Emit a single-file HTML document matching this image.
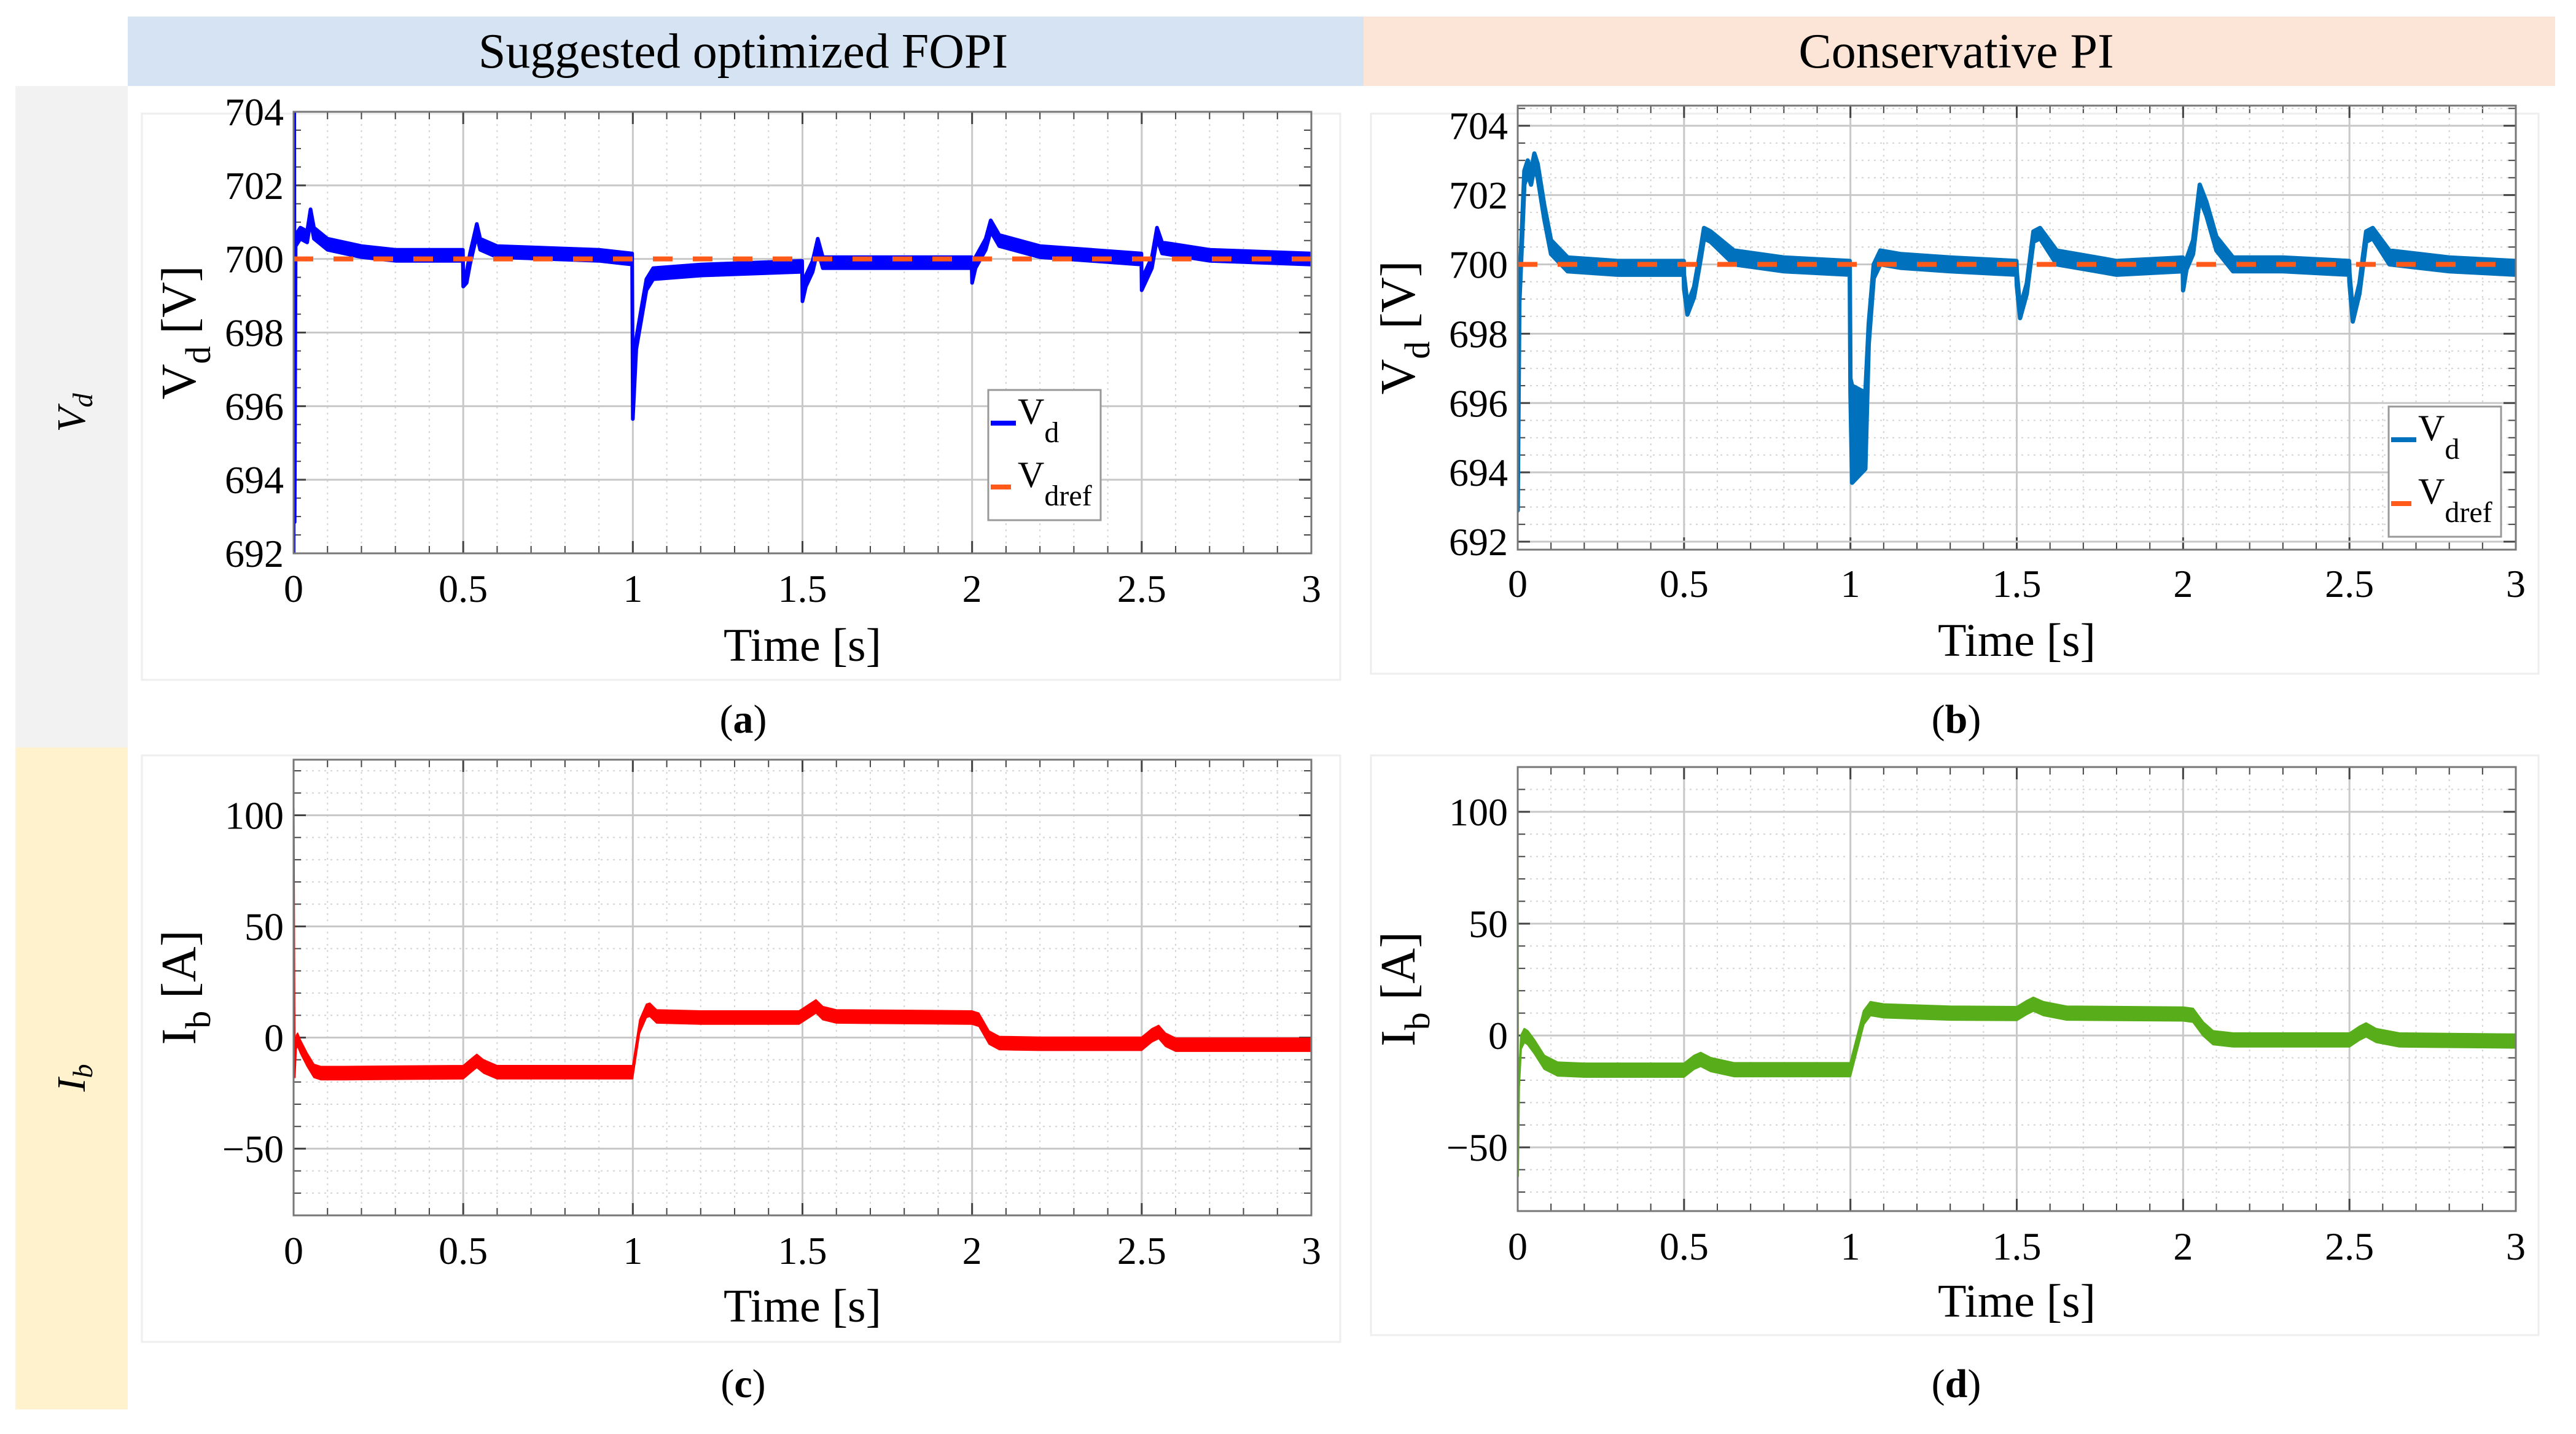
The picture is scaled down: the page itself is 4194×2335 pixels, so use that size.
<!DOCTYPE html>
<html><head><meta charset="utf-8"><style>
html,body{margin:0;padding:0;background:#fff;}
svg{display:block;font-family:"Liberation Serif",serif;}
</style></head><body>
<svg id="fig" width="4194" height="2335" viewBox="0 0 4194 2335" xmlns="http://www.w3.org/2000/svg">
<rect x="208" y="27" width="2012" height="113" fill="#d6e3f3"/>
<rect x="2220" y="27" width="1940" height="113" fill="#fce4d6"/>
<text x="1210" y="110" font-size="80" text-anchor="middle">Suggested optimized FOPI</text>
<text x="3185" y="110" font-size="80" text-anchor="middle">Conservative PI</text>
<rect x="25" y="140" width="183" height="1077" fill="#f2f2f2"/>
<rect x="25" y="1217" width="183" height="1078" fill="#fff2cc"/>
<text transform="translate(138,672) rotate(-90)" font-size="66" font-style="italic" text-anchor="middle">V<tspan font-size="46" dy="12">d</tspan></text>
<text transform="translate(138,1755) rotate(-90)" font-size="66" font-style="italic" text-anchor="middle">I<tspan font-size="46" dy="12">b</tspan></text>
<g id="plots"></g>
</svg>
<script>
// ---- Data ----
var tA=[0,0.001,0.002,0.003,0.006,0.02,0.04,0.05,0.06,0.1,0.2,0.3,0.499,0.5,0.51,0.52,0.54,0.55,0.6,0.9,0.998,1.0,1.01,1.04,1.06,1.2,1.499,1.5,1.51,1.53,1.545,1.56,1.7,1.999,2.0,2.01,2.04,2.055,2.08,2.2,2.499,2.5,2.51,2.53,2.545,2.56,2.7,3.0];
var vA=[692,704,704,693,700.5,700.7,700.6,701.2,700.7,700.4,700.2,700.1,700.1,699.4,699.5,700.0,700.8,700.4,700.2,700.1,700.0,695.8,697.7,699.3,699.6,699.7,699.8,699.0,699.4,699.8,700.4,699.9,699.9,699.9,699.5,699.9,700.4,700.9,700.5,700.2,700.0,699.3,699.5,699.9,700.7,700.3,700.1,700.0];
var noiseA=0.15;
var tB=[0,0.005,0.01,0.02,0.03,0.04,0.05,0.06,0.08,0.1,0.15,0.3,0.499,0.5,0.51,0.53,0.55,0.56,0.58,0.65,0.8,0.998,1.0,1.005,1.045,1.055,1.07,1.09,1.15,1.3,1.499,1.5,1.51,1.53,1.55,1.57,1.62,1.8,1.999,2.0,2.01,2.03,2.05,2.07,2.1,2.15,2.3,2.499,2.5,2.51,2.53,2.55,2.57,2.62,2.8,3.0];
var vB=[693,699,700.2,702.5,702.8,702.5,703.0,702.7,701.5,700.5,700.0,699.9,699.9,699.5,698.7,699.2,700.3,700.9,700.8,700.2,700.0,699.9,696.5,695.1,695.2,698.0,699.8,700.2,700.1,700.0,699.9,699.6,698.6,699.3,700.8,700.9,700.2,699.9,700.0,699.4,700.0,700.5,702.1,701.6,700.6,700.0,700.0,699.9,699.6,698.5,699.3,700.8,700.9,700.2,700.0,699.9];
var noiseB=[0.1,0.1,0.2,0.2,0.2,0.2,0.2,0.2,0.2,0.2,0.2,0.2,0.2,0.2,0.15,0.15,0.15,0.15,0.15,0.2,0.2,0.2,0.2,1.4,1.1,0.3,0.2,0.2,0.2,0.2,0.2,0.2,0.15,0.15,0.15,0.15,0.2,0.2,0.2,0.15,0.15,0.2,0.2,0.2,0.2,0.2,0.2,0.2,0.15,0.15,0.15,0.15,0.15,0.2,0.2,0.2];
var refV=700;
var tC=[0,0.001,0.004,0.008,0.012,0.02,0.04,0.06,0.08,0.15,0.5,0.52,0.54,0.56,0.6,0.999,1.0,1.02,1.04,1.05,1.07,1.2,1.49,1.52,1.54,1.56,1.6,1.999,2.02,2.05,2.08,2.2,2.5,2.53,2.55,2.57,2.6,3.0];
var vC=[-80,100,-15,-2,-1,-4,-10,-15,-16,-16,-15.6,-13,-10.5,-13,-15.6,-15.6,-15,5,12,12.5,9.5,9,9,12,14,11,9.5,9,8,0,-2.5,-2.8,-2.8,1,2.5,-1,-3.2,-3.2];
var noiseC=3;
var tD=[0,0.001,0.004,0.01,0.02,0.03,0.05,0.08,0.12,0.2,0.5,0.53,0.55,0.58,0.65,0.999,1.0,1.04,1.06,1.1,1.3,1.5,1.53,1.55,1.58,1.65,2.0,2.03,2.06,2.09,2.15,2.5,2.53,2.55,2.58,2.65,3.0];
var vD=[100,-60,-20,-3,0,-1,-5,-12,-15,-15.5,-15.5,-12,-10.7,-13,-15.3,-15.3,-15,8,12,11,10,9.8,12.5,14,12,10,9.6,9,3,-1,-2,-2,1,2.5,0,-2,-2.5];
var noiseD=3;
var xTicks=[0,0.5,1,1.5,2,2.5,3];
var xTickLabels=["0","0.5","1","1.5","2","2.5","3"];
var vTicks=[692,694,696,698,700,702,704];
var vTickLabels=["692","694","696","698","700","702","704"];
var iTicks=[-50,0,50,100];
var iTickLabels=["\u221250","0","50","100"];

var NS="http://www.w3.org/2000/svg";
var root=document.getElementById('plots');
function mk(tag,attrs,parent){var e=document.createElementNS(NS,tag);for(var k in attrs)e.setAttribute(k,attrs[k]);(parent||root).appendChild(e);return e;}

function plot(cfg){
  var g=mk('g',{});
  
  
  var L=cfg.x0,R=cfg.x1,T=cfg.y0,B=cfg.y1;
  function sx(t){return L+(t-0)/(3-0)*(R-L);}
  function sy(v){return B-(v-cfg.ymin)/(cfg.ymax-cfg.ymin)*(B-T);}
  var pf=mk('rect',{x:cfg.px0,y:cfg.py0,width:cfg.px1-cfg.px0,height:cfg.py1-cfg.py0,fill:'none',stroke:'#eeeeee','stroke-width':3},g);
  
  
  for(var i=1;i<30;i++){var t=i*0.1; if(i%5===0)continue;
    var ln=mk('line',{x1:sx(t),x2:sx(t),y1:T,y2:B,stroke:'#d4d4d4','stroke-width':2,'stroke-dasharray':'3 7'},g);
    
    
    mk('line',{x1:sx(t),x2:sx(t),y1:B,y2:B-12,stroke:'#444','stroke-width':2},g);
    mk('line',{x1:sx(t),x2:sx(t),y1:T,y2:T+12,stroke:'#444','stroke-width':2},g);
  }
  for(var v=Math.ceil(cfg.ymin/cfg.ym)*cfg.ym; v<=cfg.ymax; v+=cfg.ym){
    if(Math.abs(v/cfg.yM-Math.round(v/cfg.yM))<1e-6)continue;
    if(cfg.yDots){var ly=mk('line',{x1:L,x2:R,y1:sy(v),y2:sy(v),stroke:'#d4d4d4','stroke-width':2,'stroke-dasharray':'3 7'},g);
      
      }
    mk('line',{x1:L,x2:L+12,y1:sy(v),y2:sy(v),stroke:'#444','stroke-width':2},g);
    mk('line',{x1:R,x2:R-12,y1:sy(v),y2:sy(v),stroke:'#444','stroke-width':2},g);
  }
  cfg.xt.forEach(function(t,k){
    var ln=mk('line',{x1:sx(t),x2:sx(t),y1:T,y2:B,stroke:'#c8c8c8','stroke-width':3},g);
    
    
    mk('line',{x1:sx(t),x2:sx(t),y1:B,y2:B-20,stroke:'#444','stroke-width':3},g);
    mk('line',{x1:sx(t),x2:sx(t),y1:T,y2:T+20,stroke:'#444','stroke-width':3},g);
    var tx=mk('text',{x:sx(t),y:cfg.xly,'font-size':64,'text-anchor':'middle'},g);
    
    
    tx.textContent=cfg.xl[k];
  });
  cfg.yt.forEach(function(v,k){
    var ln=mk('line',{x1:L,x2:R,y1:sy(v),y2:sy(v),stroke:'#c8c8c8','stroke-width':3},g);
    
    
    mk('line',{x1:L,x2:L+20,y1:sy(v),y2:sy(v),stroke:'#444','stroke-width':3},g);
    mk('line',{x1:R,x2:R-20,y1:sy(v),y2:sy(v),stroke:'#444','stroke-width':3},g);
    var tx=mk('text',{x:L-16,y:sy(v)+22,'font-size':64,'text-anchor':'end'},g);
    
    
    tx.textContent=cfg.yl[k];
  });
  var up=[],lo=[];
  for(var j=0;j<cfg.t.length;j++){
    var a=Array.isArray(cfg.n)?cfg.n[j]:cfg.n;
    up.push(sx(cfg.t[j]).toFixed(1)+','+sy(cfg.v[j]+a).toFixed(1));
    lo.unshift(sx(cfg.t[j]).toFixed(1)+','+sy(cfg.v[j]-a).toFixed(1));
  }
  var cp=mk('clipPath',{id:'clip'+cfg.name},g);
  mk('rect',{x:L,y:T,width:R-L,height:B-T},cp);
  var band=mk('polygon',{points:up.concat(lo).join(' '),fill:cfg.color,stroke:cfg.color,'stroke-width':cfg.lw,'stroke-linejoin':'round','clip-path':'url(#clip'+cfg.name+')'},g);
  
  
  if(cfg.ref!==undefined){
    var rl=mk('line',{x1:L,x2:R,y1:sy(cfg.ref),y2:sy(cfg.ref),stroke:'#ff5a1a','stroke-width':8,'stroke-dasharray':'32 33'},g);
    
    
  }
  var box=mk('rect',{x:L,y:T,width:R-L,height:B-T,fill:'none',stroke:'#777','stroke-width':3},g);
  
  
  var xt=mk('text',{x:(L+R)/2,y:cfg.xty,'font-size':76,'text-anchor':'middle'},g);
  
  
  xt.textContent='Time [s]';
  var yt=mk('text',{transform:'translate('+cfg.ytx+','+((T+B)/2)+') rotate(-90)','font-size':80,'text-anchor':'middle'},g);
  
  
  yt.innerHTML=cfg.ytitle;
  var pl=mk('text',{x:cfg.lx,y:cfg.ly,'font-size':66,'text-anchor':'middle'},g);
  
  
  pl.innerHTML='(<tspan font-weight="bold">'+cfg.letter+'</tspan>)';
  if(cfg.leg){
    var lg=cfg.leg;
    var lgb=mk('rect',{x:lg.x,y:lg.y,width:183,height:212,fill:'#fff',stroke:'#999','stroke-width':3},g);
    
    
    var s1=mk('line',{x1:lg.x+4,x2:lg.x+45,y1:lg.y+54,y2:lg.y+54,stroke:cfg.color,'stroke-width':8},g);
    
    
    var s2=mk('line',{x1:lg.x+4,x2:lg.x+37,y1:lg.y+158,y2:lg.y+158,stroke:'#ff5a1a','stroke-width':8},g);
    
    
    var e1=mk('text',{x:lg.x+48,y:lg.y+55,'font-size':60},g);
    
    
    e1.innerHTML='V<tspan font-size="48" dy="30">d</tspan>';
    var e2=mk('text',{x:lg.x+48,y:lg.y+158,'font-size':60},g);
    
    
    e2.innerHTML='V<tspan font-size="48" dy="30">dref</tspan>';
  }
}
var vTitle='V<tspan font-size="58" dy="24">d</tspan><tspan dy="-24"> [V]</tspan>';
var iTitle='I<tspan font-size="58" dy="24">b</tspan><tspan dy="-24"> [A]</tspan>';
plot({name:'plot-a',seriesName:'series-vd-fopi',x0:478,x1:2135,y0:182,y1:901,ymin:692,ymax:704,yM:2,ym:0.5,yDots:false,
  xt:xTicks,xl:xTickLabels,yt:vTicks,yl:vTickLabels,t:tA,v:vA,n:noiseA,color:'#0000ff',lw:6,ref:refV,
  xly:980,xty:1076,ytx:318,ytitle:vTitle,lx:1210,ly:1193,letter:'a',px0:231,py0:185,px1:2182,py1:1107,
  leg:{x:1609,y:635}});
plot({name:'plot-b',seriesName:'series-vd-pi',x0:2471,x1:4096,y0:172,y1:895,ymin:691.77,ymax:704.58,yM:2,ym:0.5,yDots:true,
  xt:xTicks,xl:xTickLabels,yt:vTicks,yl:vTickLabels,t:tB,v:vB,n:noiseB,color:'#0072bd',lw:7,ref:refV,
  xly:972,xty:1068,ytx:2303,ytitle:vTitle,lx:3185,ly:1193,letter:'b',px0:2232,py0:185,px1:4133,py1:1097,
  leg:{x:3889,y:662}});
plot({name:'plot-c',seriesName:'series-ib-fopi',x0:478,x1:2135,y0:1237,y1:1979,ymin:-80,ymax:125,yM:50,ym:10,yDots:true,
  xt:xTicks,xl:xTickLabels,yt:iTicks,yl:iTickLabels,t:tC,v:vC,n:noiseC,color:'#ff0000',lw:2,
  xly:2058,xty:2152,ytx:318,ytitle:iTitle,lx:1210,ly:2275,letter:'c',px0:231,py0:1230,px1:2182,py1:2185});
plot({name:'plot-d',seriesName:'series-ib-pi',x0:2471,x1:4096,y0:1249,y1:1972,ymin:-78.5,ymax:120,yM:50,ym:10,yDots:true,
  xt:xTicks,xl:xTickLabels,yt:iTicks,yl:iTickLabels,t:tD,v:vD,n:noiseD,color:'#58ae1a',lw:3,
  xly:2051,xty:2144,ytx:2303,ytitle:iTitle,lx:3185,ly:2275,letter:'d',px0:2232,py0:1230,px1:4133,py1:2174});
</script>
</body></html>
